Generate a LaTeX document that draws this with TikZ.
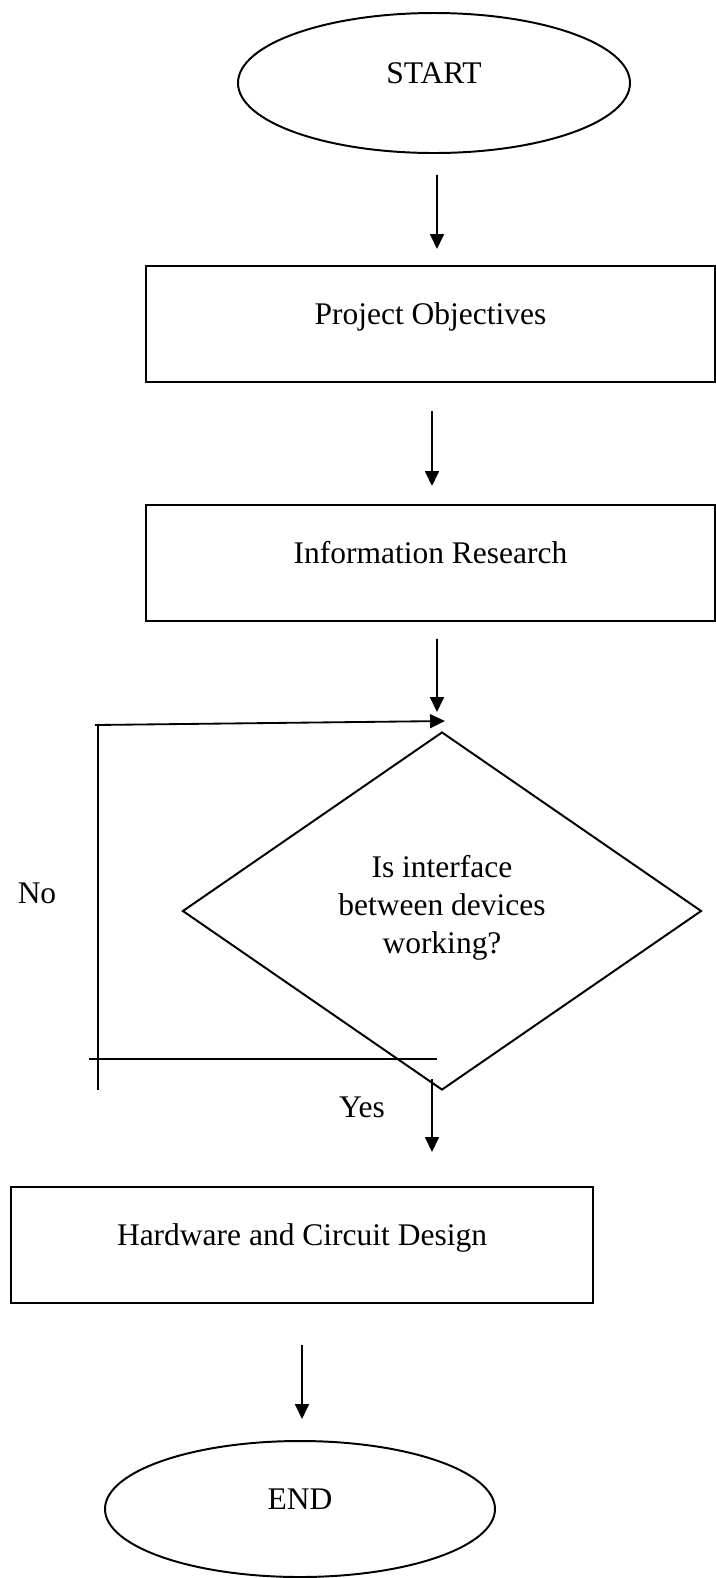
\documentclass[tikz,border=0pt]{standalone}
\usepackage{fontspec}
\setmainfont{Liberation Serif}
\usetikzlibrary{shapes.geometric,arrows.meta}
\newdimen\pxu
\pxu=0.381pt

\begin{document}
\begin{tikzpicture}[x=\pxu,y=-\pxu,>={Triangle[length=5.7pt,width=5.3pt]},
  font=\fontsize{12}{14.5}\selectfont,
  every node/.style={inner sep=0pt},
  txt/.style={text height=16\pxu,text depth=16\pxu},
  term/.style={draw,ellipse,line width=0.75pt,txt,minimum width=392\pxu,minimum height=140\pxu},
  proc/.style={draw,line width=0.75pt,txt,minimum width=569\pxu,minimum height=116\pxu},
  test/.style={draw,diamond,line width=0.75pt,align=center,text height=95\pxu,text depth=10\pxu,
    minimum width=519\pxu,minimum height=358\pxu},
  flow/.style={->,line width=0.7pt},
  loopline/.style={line width=0.4pt}]

\useasboundingbox (0,0) rectangle (716,1578);

\node[term] (start) at (434,83) {START};
\node[proc] (obj) at (430.5,324) {Project Objectives};
\node[proc] (research) at (430.5,563) {Information Research};
\node[test] (check) at (442,911) {Is interface\\between devices\\working?};
\node[proc,minimum width=582\pxu] (design) at (302,1245) {Hardware and Circuit Design};
\node[term,minimum width=390\pxu,minimum height=136\pxu] (stop) at (300,1509) {END};

\node (no) at (37,893) {No};
\node (yes) at (362,1107) {Yes};

\draw[flow] ([xshift=3\pxu,yshift=-21\pxu]start.south) -- ([xshift=6.5\pxu,yshift=16\pxu]obj.north);
\draw[flow] ([xshift=1.5\pxu,yshift=-28\pxu]obj.south) -- ([xshift=1.5\pxu,yshift=18\pxu]research.north);
\draw[flow] ([xshift=6.5\pxu,yshift=-17\pxu]research.south) -- ([xshift=-5\pxu,yshift=19\pxu]check.north);
\draw[flow] ([xshift=-10\pxu,yshift=12\pxu]check.south) -- ([xshift=130\pxu,yshift=34\pxu]design.north);
\draw[flow] ([yshift=-41\pxu]design.south) -- ([xshift=2\pxu,yshift=21\pxu]stop.north);

\coordinate (looptop) at (95,725);
\coordinate (vtop) at (98,725);
\coordinate (vbot) at (98,1090);
\coordinate (hleft) at (89,1059);
\coordinate (hright) at (437,1059);
\draw[flow] (looptop) -- ([xshift=3\pxu,yshift=10\pxu]check.north);
\draw[loopline] (vtop) -- (vbot);
\draw[loopline] (hleft) -- (hright);

\end{tikzpicture}
\end{document}
